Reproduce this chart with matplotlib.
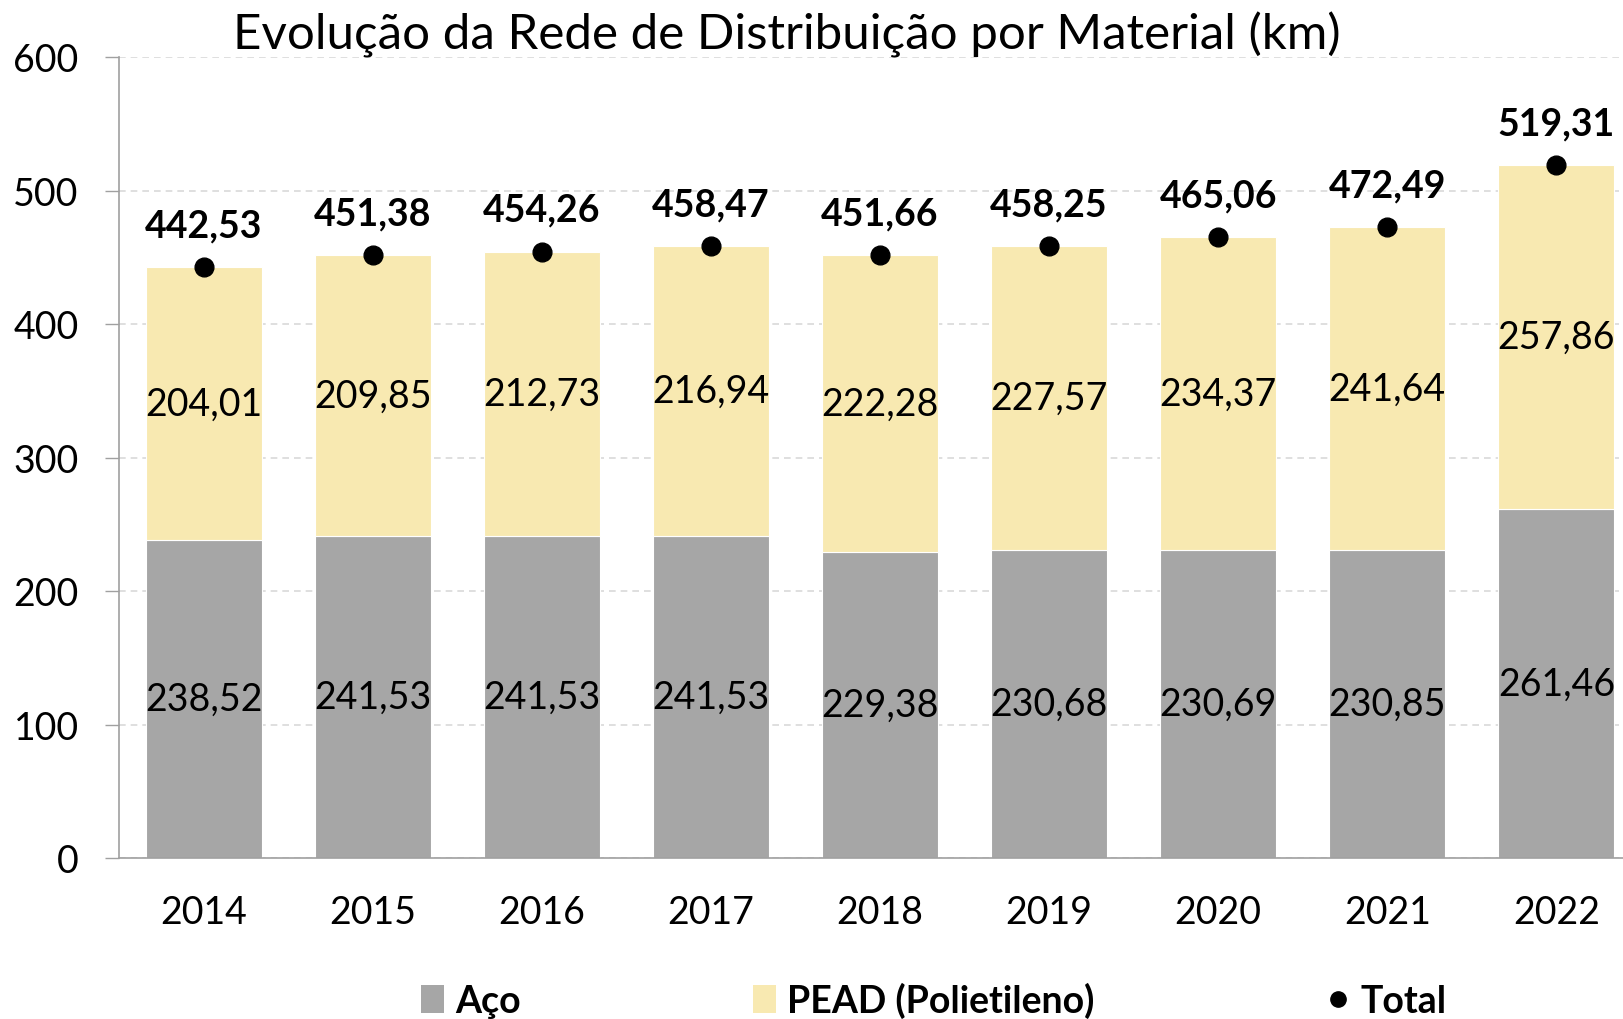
import matplotlib
matplotlib.use("Agg")
import matplotlib.pyplot as plt
from matplotlib.patches import Patch
from matplotlib.lines import Line2D

plt.rcParams['font.family'] = ['Lato', 'DejaVu Sans']

years = ["2014", "2015", "2016", "2017", "2018", "2019", "2020", "2021", "2022"]
aco = [238.52, 241.53, 241.53, 241.53, 229.38, 230.68, 230.69, 230.85, 261.46]
pead = [204.01, 209.85, 212.73, 216.94, 222.28, 227.57, 234.37, 241.64, 257.86]
total = [442.53, 451.38, 454.26, 458.47, 451.66, 458.25, 465.06, 472.49, 519.31]
yticks = [0, 100, 200, 300, 400, 500, 600]

def fmt(v):
    return f"{v:.2f}".replace(".", ",")

W, H = 1623, 1020
fig = plt.figure(figsize=(W / 100, H / 100), dpi=100)
ax_left, ax_right, ax_top, ax_bottom = 119, 1623, 58, 859
ax = fig.add_axes([ax_left / W, 1 - ax_bottom / H, (ax_right - ax_left) / W, (ax_bottom - ax_top) / H])

x = list(range(len(years)))
step = 169.1
ax.set_xlim(-0.5, -0.5 + (ax_right - ax_left) / step)
ax.set_ylim(0, 600)

gray = "#A6A6A6"
yellow = "#F8E9B1"
bw = 0.686
ax.bar(x, aco, width=bw, color=gray, edgecolor="white", linewidth=0.8, zorder=2)
ax.bar(x, pead, width=bw, bottom=aco, color=yellow, edgecolor="white", linewidth=0.8, zorder=2)
ax.plot(x, total, "o", color="black", markersize=13.5, zorder=4, clip_on=False)

fs = 27
for i in x:
    ax.text(i, aco[i] / 2, fmt(aco[i]), ha="center", va="center", fontsize=fs, zorder=5)
    ax.text(i, aco[i] + pead[i] / 2, fmt(pead[i]), ha="center", va="center", fontsize=fs, zorder=5)
    ax.annotate(fmt(total[i]), (i, total[i]), xytext=(0, 30), textcoords="offset points",
                ha="center", va="center", fontsize=fs, fontweight="bold", zorder=5,
                annotation_clip=False)

ax.set_yticks(yticks)
ax.set_yticklabels([str(t) for t in yticks], fontsize=fs)
ax.set_xticks(x)
ax.set_xticklabels(years, fontsize=fs)
ax.tick_params(axis="y", length=10, width=1, color="#A0A0A0", pad=19)
ax.tick_params(axis="x", length=0, pad=26)
ax.grid(axis="y", color="#D9D9D9", linestyle=(0, (4, 3)), linewidth=1.2, zorder=0)
ax.set_axisbelow(True)
for s in ["top", "right"]:
    ax.spines[s].set_visible(False)
for s in ["left", "bottom"]:
    ax.spines[s].set_color("#A0A0A0")
    ax.spines[s].set_linewidth(1.2)

fig.text(787 / W, 1 - 35 / H, "Evolução da Rede de Distribuição por Material (km)",
         ha="center", va="center", fontsize=35.5)

handles = [Patch(facecolor=gray, edgecolor="none"),
           Patch(facecolor=yellow, edgecolor="none"),
           Line2D([], [], marker="o", color="black", linestyle="none", markersize=11)]
leg = fig.legend(handles, ["Aço", "PEAD (Polietileno)", "Total"], loc="center",
                 bbox_to_anchor=(934 / W, 1 - 1001 / H), ncol=3, frameon=False,
                 prop={"size": fs, "weight": "bold"}, handlelength=0.6, handleheight=0.75,
                 handletextpad=0.3, columnspacing=6.2)

fig.savefig("out.png", dpi=100)
